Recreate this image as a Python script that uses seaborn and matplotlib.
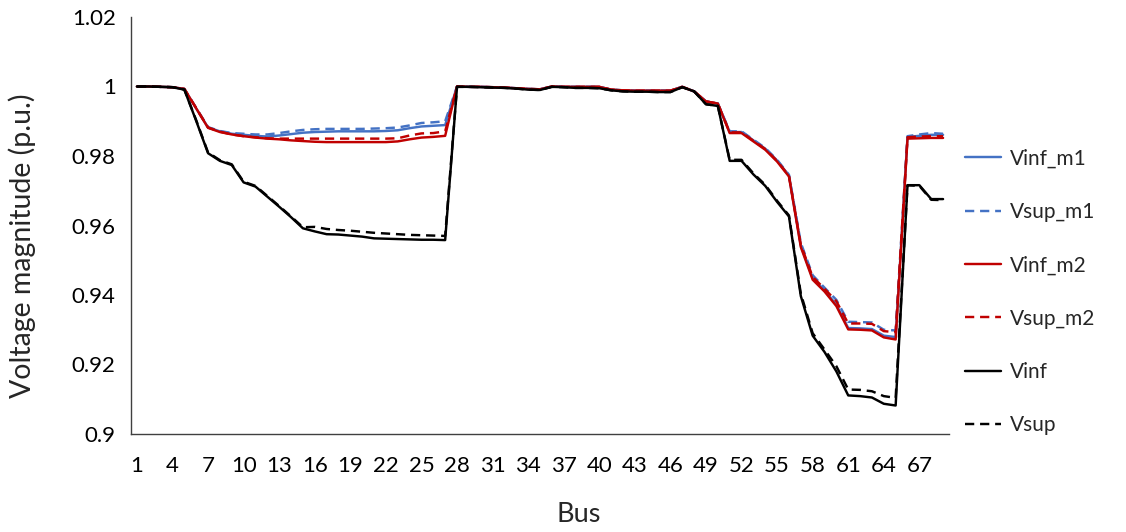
import matplotlib
matplotlib.use("Agg")
import matplotlib.pyplot as plt
import seaborn as sns
import pandas as pd

buses = list(range(1, 70))

vinf_m1 = [1.0000, 1.0000, 0.9999, 0.9998, 0.9993, 0.9937, 0.9882, 0.9871, 0.9864, 0.9861,
           0.9858, 0.9856, 0.9859, 0.9863, 0.9867, 0.9869, 0.9870, 0.9871, 0.9871, 0.9871,
           0.9871, 0.9872, 0.9874, 0.9880, 0.9885, 0.9887, 0.9889, 1.0000, 0.9999, 0.9999,
           0.9998, 0.9997, 0.9995, 0.9993, 0.9992, 1.0000, 0.9999, 0.9999, 0.9999, 0.9999,
           0.9991, 0.9989, 0.9988, 0.9988, 0.9988, 0.9988, 0.9999, 0.9986, 0.9957, 0.9951,
           0.9869, 0.9869, 0.9845, 0.9821, 0.9787, 0.9744, 0.9542, 0.9448, 0.9413, 0.9372,
           0.9305, 0.9304, 0.9302, 0.9283, 0.9279, 0.9855, 0.9858, 0.9861, 0.9861]

vsup_m1 = [1.0000, 1.0000, 0.9999, 0.9998, 0.9993, 0.9938, 0.9883, 0.9872, 0.9866, 0.9864,
           0.9862, 0.9862, 0.9866, 0.9871, 0.9875, 0.9877, 0.9878, 0.9878, 0.9878, 0.9878,
           0.9879, 0.9880, 0.9882, 0.9888, 0.9895, 0.9897, 0.9900, 1.0000, 0.9999, 0.9999,
           0.9998, 0.9997, 0.9995, 0.9993, 0.9992, 1.0000, 0.9999, 0.9999, 0.9999, 0.9999,
           0.9991, 0.9989, 0.9988, 0.9988, 0.9988, 0.9988, 0.9999, 0.9986, 0.9957, 0.9951,
           0.9871, 0.9871, 0.9847, 0.9823, 0.9789, 0.9746, 0.9550, 0.9457, 0.9421, 0.9386,
           0.9323, 0.9322, 0.9321, 0.9300, 0.9298, 0.9857, 0.9862, 0.9866, 0.9864]

vinf_m2 = [1.0000, 1.0000, 0.9999, 0.9998, 0.9993, 0.9937, 0.9881, 0.9869, 0.9862, 0.9857,
           0.9853, 0.9850, 0.9848, 0.9845, 0.9843, 0.9841, 0.9840, 0.9840, 0.9840, 0.9840,
           0.9840, 0.9840, 0.9842, 0.9848, 0.9853, 0.9855, 0.9858, 1.0000, 0.9999, 0.9999,
           0.9998, 0.9997, 0.9995, 0.9993, 0.9992, 1.0000, 0.9999, 0.9999, 0.9999, 0.9999,
           0.9991, 0.9989, 0.9988, 0.9988, 0.9988, 0.9988, 0.9999, 0.9986, 0.9957, 0.9951,
           0.9866, 0.9866, 0.9842, 0.9818, 0.9784, 0.9741, 0.9538, 0.9444, 0.9410, 0.9368,
           0.9301, 0.9300, 0.9298, 0.9278, 0.9272, 0.9850, 0.9851, 0.9852, 0.9852]

vsup_m2 = [1.0000, 1.0000, 0.9999, 0.9998, 0.9993, 0.9938, 0.9882, 0.9870, 0.9862, 0.9857,
           0.9854, 0.9851, 0.9850, 0.9850, 0.9850, 0.9850, 0.9850, 0.9850, 0.9850, 0.9850,
           0.9850, 0.9850, 0.9851, 0.9859, 0.9865, 0.9866, 0.9871, 1.0000, 0.9999, 0.9999,
           0.9998, 0.9997, 0.9995, 0.9993, 0.9992, 1.0000, 0.9999, 0.9999, 0.9999, 0.9999,
           0.9991, 0.9989, 0.9988, 0.9988, 0.9988, 0.9988, 0.9999, 0.9986, 0.9957, 0.9951,
           0.9868, 0.9868, 0.9844, 0.9820, 0.9786, 0.9743, 0.9545, 0.9452, 0.9418, 0.9382,
           0.9318, 0.9318, 0.9317, 0.9296, 0.9293, 0.9854, 0.9856, 0.9857, 0.9857]

vinf = [1.0000, 1.0000, 0.9999, 0.9998, 0.9991, 0.9901, 0.9808, 0.9786, 0.9774, 0.9724,
        0.9712, 0.9683, 0.9654, 0.9624, 0.9592, 0.9583, 0.9575, 0.9574, 0.9571, 0.9568,
        0.9563, 0.9562, 0.9561, 0.9560, 0.9559, 0.9559, 0.9558, 0.9999, 0.9999, 0.9998,
        0.9997, 0.9996, 0.9994, 0.9991, 0.9990, 0.9999, 0.9998, 0.9996, 0.9996, 0.9995,
        0.9989, 0.9986, 0.9985, 0.9985, 0.9984, 0.9984, 0.9998, 0.9986, 0.9949, 0.9944,
        0.9786, 0.9786, 0.9747, 0.9714, 0.9668, 0.9626, 0.9397, 0.9283, 0.9236, 0.9180,
        0.9111, 0.9109, 0.9105, 0.9087, 0.9082, 0.9716, 0.9716, 0.9676, 0.9676]

vsup = [1.0000, 1.0000, 0.9999, 0.9998, 0.9991, 0.9903, 0.9810, 0.9788, 0.9776, 0.9726,
        0.9714, 0.9685, 0.9656, 0.9626, 0.9595, 0.9596, 0.9590, 0.9587, 0.9585, 0.9582,
        0.9579, 0.9577, 0.9575, 0.9573, 0.9572, 0.9571, 0.9570, 0.9999, 0.9999, 0.9998,
        0.9997, 0.9996, 0.9994, 0.9991, 0.9990, 0.9999, 0.9998, 0.9996, 0.9996, 0.9995,
        0.9989, 0.9986, 0.9985, 0.9985, 0.9984, 0.9984, 0.9998, 0.9986, 0.9949, 0.9944,
        0.9789, 0.9789, 0.9750, 0.9717, 0.9671, 0.9629, 0.9404, 0.9290, 0.9243, 0.9195,
        0.9128, 0.9127, 0.9123, 0.9109, 0.9104, 0.9716, 0.9714, 0.9674, 0.9673]

series_names = ["Vinf_m1", "Vsup_m1", "Vinf_m2", "Vsup_m2", "Vinf", "Vsup"]
series_values = [vinf_m1, vsup_m1, vinf_m2, vsup_m2, vinf, vsup]
series_colors = ["#4472C4", "#4472C4", "#C00000", "#C00000", "#000000", "#000000"]
series_dashed = [False, True, False, True, False, True]

xtick_labels = [str(b) for b in range(1, 70, 3)]
ytick_values = [0.9, 0.92, 0.94, 0.96, 0.98, 1.0, 1.02]
ytick_labels = ["0.9", "0.92", "0.94", "0.96", "0.98", "1", "1.02"]

sns.set_theme(style="white")
plt.rcParams["font.family"] = ["Lato", "DejaVu Sans"]

fig = plt.figure(figsize=(11.26, 5.32), dpi=100)
ax = fig.add_axes([131 / 1126, 1 - 434 / 532, (949 - 131) / 1126, (434 - 17) / 532])

for name, vals, col, dashed in zip(series_names, series_values, series_colors, series_dashed):
    df = pd.DataFrame({"Bus": buses, "V": vals})
    sns.lineplot(data=df, x="Bus", y="V", ax=ax, color=col, linewidth=1.75,
                 label=name, dashes=False,
                 linestyle=(0, (3.8, 2.4)) if dashed else "-")

ax.set_xlim(0.5, 69.5)
ax.set_ylim(0.9, 1.02)
ax.set_xticks(list(range(1, 70, 3)))
ax.set_xticklabels(xtick_labels, fontsize=16)
ax.set_yticks(ytick_values)
ax.set_yticklabels(ytick_labels, fontsize=16)
ax.tick_params(axis="both", length=0, colors="#000000")
ax.tick_params(axis="x", pad=16)
ax.tick_params(axis="y", pad=11)
ax.set_xlabel("Bus", fontsize=19.5)
ax.set_ylabel("Voltage magnitude (p.u.)", fontsize=20.5)
ax.xaxis.label.set(va="center", ha="center")
ax.yaxis.label.set(va="center", ha="center", rotation_mode="anchor")
ax.xaxis.set_label_coords((579 - 131) / 818, (434 - 515) / 417)
ax.yaxis.set_label_coords((22 - 131) / 818, (434 - 246) / 417)
for s in ["top", "right"]:
    ax.spines[s].set_visible(False)
for s in ["left", "bottom"]:
    ax.spines[s].set_color("#404040")
    ax.spines[s].set_linewidth(1.0)
ax.grid(False)

ax.legend(loc="center left", bbox_to_anchor=(946 / 1126, 1 - 292 / 532),
          bbox_transform=fig.transFigure, frameon=False, fontsize=15,
          labelspacing=1.6, handlelength=1.75, handletextpad=0.4)

fig.savefig("out.png", dpi=100)
